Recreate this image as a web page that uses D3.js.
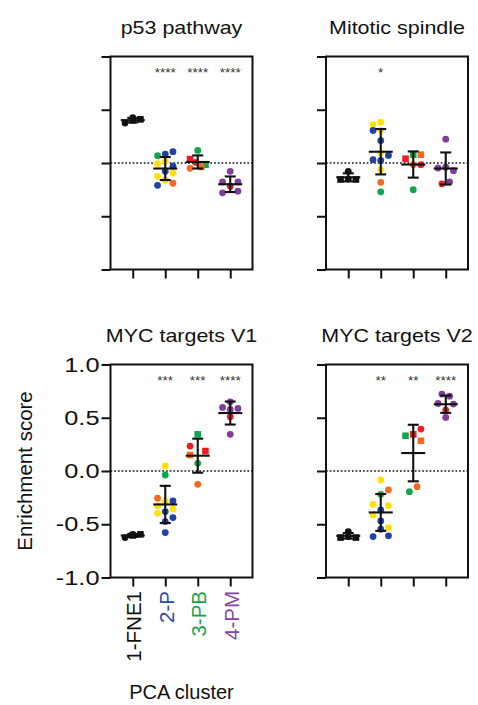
<!DOCTYPE html>
<html>
<head>
<meta charset="utf-8">
<script src="https://cdn.jsdelivr.net/npm/d3@7"></script>
<style>
  html, body { margin: 0; padding: 0; background: #fff; }
  svg { display: block; font-family: "Liberation Sans", Arial, Helvetica, sans-serif; }
</style>
</head>
<body>
<svg id="chart" width="478" height="705"></svg>
<script>
// ---- data -------------------------------------------------------------
const categories = ["1-FNE1", "2-P", "3-PB", "4-PM"];
const categoryColors = ["#111111", "#2a4aa6", "#16a34c", "#8446a3"];
const yTickValues = [-1, -0.5, 0, 0.5, 1];
const yTickLabels = ["-1.0", "-0.5", "0.0", "0.5", "1.0"];
const panelTitles = ["p53 pathway", "Mitotic spindle", "MYC targets V1", "MYC targets V2"];
const yAxisTitle = "Enrichment score";
const xAxisTitle = "PCA cluster";

// significance marks per cluster
const p53Stars      = ["", "****", "****", "****"];
const mitoticStars  = ["", "*", "", ""];
const mycV1Stars    = ["", "***", "***", "****"];
const mycV2Stars    = ["", "**", "**", "****"];

// sample colour keys
const sampleColors = { K: "#111111", Y: "#ffe10a", B: "#2341a1", O: "#f26a22", G: "#12a64b", R: "#ee1d25", P: "#7f3f98" };

// [cluster, enrichment score, sample colour, marker (c circle / s square), swarm column]
const p53Points = [
  [0, 0.375, "K", "c", -1], [0, 0.425, "K", "c", 0], [0, 0.41, "K", "s", 1], [0, 0.40, "K", "s", 0],
  [1, 0.106, "B", "c", 1], [1, 0.084, "B", "c", 0], [1, 0.068, "G", "c", -1], [1, 0.015, "Y", "c", 0],
  [1, -0.007, "Y", "c", -1], [1, -0.03, "B", "c", 1], [1, -0.078, "B", "c", 0], [1, -0.094, "Y", "c", 1],
  [1, -0.125, "Y", "c", -1], [1, -0.16, "Y", "c", 0], [1, -0.19, "O", "c", 1], [1, -0.21, "B", "c", -1],
  [2, 0.037, "R", "s", -1], [2, 0.006, "R", "c", -0.3], [2, 0.118, "G", "c", 0], [2, -0.016, "G", "s", 1],
  [2, -0.05, "O", "c", -1], [2, -0.037, "O", "s", 0.45],
  [3, -0.078, "P", "c", 0], [3, -0.178, "P", "c", -1], [3, -0.178, "P", "c", 1], [3, -0.218, "R", "c", 0],
  [3, -0.28, "P", "c", -1], [3, -0.265, "P", "c", 1]
];

const mitoticPoints = [
  [0, -0.078, "K", "c", 0], [0, -0.155, "K", "s", -1], [0, -0.155, "K", "s", 1], [0, -0.15, "K", "c", 0],
  [1, 0.361, "Y", "c", -1], [1, 0.383, "Y", "c", 0], [1, 0.305, "B", "c", -1], [1, 0.305, "Y", "c", 0],
  [1, 0.211, "B", "c", 0], [1, 0.093, "Y", "c", 0], [1, 0.071, "B", "c", 1], [1, 0.031, "B", "c", -1],
  [1, 0.024, "B", "c", 0], [1, -0.063, "Y", "c", 0], [1, -0.181, "O", "c", 0], [1, -0.271, "G", "c", 0],
  [2, 0.04, "R", "s", -1], [2, 0.078, "G", "s", 0], [2, 0.078, "O", "s", 1], [2, -0.016, "O", "c", 0],
  [2, -0.016, "R", "c", 1], [2, -0.25, "G", "c", 0],
  [3, 0.224, "P", "c", 0], [3, -0.047, "P", "c", -1], [3, -0.04, "P", "c", 0], [3, -0.072, "P", "c", 1],
  [3, -0.178, "P", "c", 0.5], [3, -0.196, "R", "c", -0.5]
];

const mycV1Points = [
  [0, -0.625, "K", "c", -1], [0, -0.595, "K", "c", 0], [0, -0.595, "K", "s", 1], [0, -0.605, "K", "s", 0],
  [1, 0.047, "Y", "c", 0], [1, -0.0375, "G", "c", 0], [1, -0.256, "O", "c", -1], [1, -0.2875, "Y", "c", 0],
  [1, -0.281, "B", "c", 1], [1, -0.328, "Y", "c", -1], [1, -0.356, "Y", "c", 1], [1, -0.397, "Y", "c", -1],
  [1, -0.381, "B", "c", 0], [1, -0.4375, "B", "c", 1], [1, -0.475, "B", "c", 0], [1, -0.578, "B", "c", 0],
  [2, 0.344, "G", "s", 0], [2, 0.234, "R", "c", -1], [2, 0.1875, "R", "s", 1], [2, 0.15, "O", "s", -1],
  [2, 0.072, "G", "c", 0], [2, -0.125, "O", "c", 0],
  [3, 0.65, "P", "c", 0], [3, 0.597, "P", "c", -1], [3, 0.578, "P", "c", 0], [3, 0.5875, "P", "c", 1],
  [3, 0.509, "R", "c", 0], [3, 0.344, "P", "c", 0]
];

const mycV2Points = [
  [0, -0.57, "K", "c", 0], [0, -0.625, "K", "s", -1], [0, -0.625, "K", "s", 1], [0, -0.615, "K", "c", 0],
  [1, -0.084, "Y", "c", 0], [1, -0.178, "O", "c", 1], [1, -0.219, "G", "c", 0], [1, -0.3125, "Y", "c", -1],
  [1, -0.325, "Y", "c", 1], [1, -0.366, "B", "c", 0], [1, -0.4125, "Y", "c", -1], [1, -0.469, "B", "c", 0],
  [1, -0.531, "Y", "c", 1], [1, -0.547, "B", "c", 0], [1, -0.616, "B", "c", -1], [1, -0.609, "B", "c", 1],
  [2, 0.394, "R", "c", 1], [2, 0.331, "G", "s", -1], [2, 0.344, "R", "s", 0], [2, 0.284, "O", "s", 1],
  [2, -0.147, "O", "c", 0.5], [2, -0.194, "G", "c", -0.5],
  [3, 0.722, "P", "c", -0.5], [3, 0.703, "P", "c", 0.5], [3, 0.634, "P", "c", -1], [3, 0.628, "P", "c", 1],
  [3, 0.572, "R", "c", 0], [3, 0.503, "P", "c", 0]
];

// ---- layout -----------------------------------------------------------
const svg = d3.select("#chart");
const panels = [
  { title: panelTitles[0], points: p53Points,     stars: p53Stars,     x0: 110.5, x1: 252.5, y0: 56.5,  y1: 269.5, labels: false },
  { title: panelTitles[1], points: mitoticPoints, stars: mitoticStars, x0: 326,   x1: 468,   y0: 56.5,  y1: 269.5, labels: false },
  { title: panelTitles[2], points: mycV1Points,   stars: mycV1Stars,   x0: 110.5, x1: 252.5, y0: 364.5, y1: 577.5, labels: true },
  { title: panelTitles[3], points: mycV2Points,   stars: mycV2Stars,   x0: 326,   x1: 468,   y0: 364.5, y1: 577.5, labels: false }
];

const colStep = 7.7;   // px between swarm columns
const dotR = 3.4;
const sq = 6.6;

panels.forEach(p => {
  const g = svg.append("g");
  const x = d3.scalePoint().domain(categories).range([p.x0, p.x1]).padding(0.685);
  const y = d3.scaleLinear().domain([-1, 1]).range([p.y1, p.y0]);

  // axes
  const yAxis = d3.axisLeft(y).tickValues(yTickValues).tickSize(9).tickSizeOuter(0).tickFormat("");
  const xAxis = d3.axisBottom(x).tickSize(9).tickSizeOuter(0).tickFormat("");
  const ya = g.append("g").attr("transform", `translate(${p.x0},0)`).call(yAxis);
  const xa = g.append("g").attr("transform", `translate(0,${p.y1})`).call(xAxis);
  [ya, xa].forEach(a => {
    a.select(".domain").remove();
    a.selectAll("line").attr("stroke", "#111").attr("stroke-width", 2);
  });

  // frame
  g.append("rect")
    .attr("x", p.x0).attr("y", p.y0)
    .attr("width", p.x1 - p.x0).attr("height", p.y1 - p.y0)
    .attr("fill", "none").attr("stroke", "#111").attr("stroke-width", 2);

  // zero reference line
  g.append("line")
    .attr("x1", p.x0).attr("x2", p.x1).attr("y1", y(0)).attr("y2", y(0))
    .attr("stroke", "#111").attr("stroke-width", 1.7).attr("stroke-dasharray", "1.7 2");

  // title
  g.append("text")
    .attr("transform", `translate(${(p.x0 + p.x1) / 2},${p.y0 - 22.5}) scale(1.13,1)`)
    .attr("text-anchor", "middle").attr("font-size", 19).attr("fill", "#111")
    .text(p.title);

  // significance marks
  g.selectAll("text.star").data(p.stars).join("text")
    .attr("class", "star")
    .attr("x", (d, i) => x(categories[i])).attr("y", p.y0 + 20)
    .attr("text-anchor", "middle").attr("font-size", 13.5).attr("fill", "#333")
    .text(d => d);

  // points
  const px = d => x(categories[d[0]]) + d[4] * colStep;
  const pts = g.append("g");
  pts.selectAll("circle").data(p.points.filter(d => d[3] === "c")).join("circle")
    .attr("cx", px).attr("cy", d => y(d[1])).attr("r", dotR)
    .attr("fill", d => sampleColors[d[2]]);
  pts.selectAll("rect").data(p.points.filter(d => d[3] === "s")).join("rect")
    .attr("x", d => px(d) - sq / 2).attr("y", d => y(d[1]) - sq / 2)
    .attr("width", sq).attr("height", sq)
    .attr("fill", d => sampleColors[d[2]]);

  // mean ± SD
  const stats = d3.groups(p.points, d => d[0]).map(([k, arr]) => {
    const vals = arr.map(d => d[1]);
    return { k, mean: d3.mean(vals), sd: d3.deviation(vals) };
  });
  const eb = g.append("g").attr("stroke", "#111").attr("stroke-width", 2.1).attr("fill", "none");
  stats.forEach(s => {
    const cx = x(categories[s.k]);
    eb.append("line").attr("x1", cx).attr("x2", cx).attr("y1", y(s.mean + s.sd)).attr("y2", y(s.mean - s.sd));
    eb.append("line").attr("x1", cx - 5.5).attr("x2", cx + 5.5).attr("y1", y(s.mean + s.sd)).attr("y2", y(s.mean + s.sd));
    eb.append("line").attr("x1", cx - 5.5).attr("x2", cx + 5.5).attr("y1", y(s.mean - s.sd)).attr("y2", y(s.mean - s.sd));
    eb.append("line").attr("x1", cx - 12).attr("x2", cx + 12).attr("y1", y(s.mean)).attr("y2", y(s.mean));
  });

  if (p.labels) {
    // y tick labels
    g.selectAll("text.ytick").data(yTickValues).join("text")
      .attr("class", "ytick")
      .attr("transform", (d, i) => `translate(${p.x0 - 11},${y(d) + 7}) scale(1.3,1)`)
      .attr("text-anchor", "end").attr("font-size", 19.5).attr("fill", "#111")
      .text((d, i) => yTickLabels[i]);

    // x tick labels (rotated)
    g.selectAll("text.xtick").data(categories).join("text")
      .attr("class", "xtick")
      .attr("transform", d => `translate(${x(d) + 8.5},${p.y1 + 13.5}) rotate(-90)`)
      .attr("text-anchor", "end").attr("font-size", 20.5)
      .attr("fill", (d, i) => categoryColors[i])
      .text(d => d);

    // axis titles
    svg.append("text")
      .attr("transform", `translate(32,${(p.y0 + p.y1) / 2}) rotate(-90)`)
      .attr("text-anchor", "middle").attr("font-size", 20.5).attr("fill", "#111")
      .text(yAxisTitle);
    svg.append("text")
      .attr("transform", `translate(${(p.x0 + p.x1) / 2},699)`)
      .attr("text-anchor", "middle").attr("font-size", 20).attr("fill", "#111")
      .text(xAxisTitle);
  }
});
</script>
</body>
</html>
